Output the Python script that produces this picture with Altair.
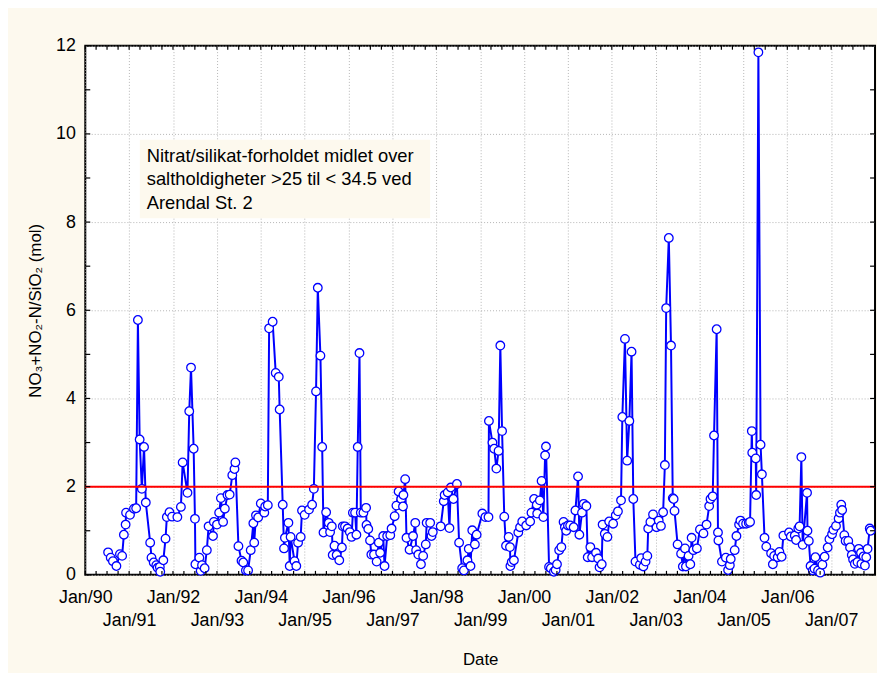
import altair as alt
import pandas as pd

# ---- data (decimal year, ratio) ----
years = [
    1990.52, 1990.58, 1990.63, 1990.71, 1990.79, 1990.84, 1990.88, 1990.92, 1990.93,
    1991.02, 1991.11, 1991.16, 1991.20, 1991.24, 1991.29, 1991.34, 1991.38, 1991.48,
    1991.51, 1991.56, 1991.62, 1991.65, 1991.70, 1991.71, 1991.78, 1991.83, 1991.86,
    1991.92, 1991.98, 1992.10, 1992.18, 1992.22, 1992.33, 1992.37, 1992.41, 1992.47,
    1992.50, 1992.51, 1992.60, 1992.63, 1992.66, 1992.72, 1992.77, 1992.81, 1992.91,
    1992.93, 1993.00, 1993.05, 1993.09, 1993.14, 1993.18, 1993.24, 1993.29, 1993.35,
    1993.40, 1993.42, 1993.49, 1993.56, 1993.60, 1993.66, 1993.71, 1993.77, 1993.83,
    1993.85, 1993.89, 1993.94, 1994.00, 1994.08, 1994.10, 1994.16, 1994.19, 1994.27,
    1994.34, 1994.41, 1994.43, 1994.50, 1994.53, 1994.55, 1994.63, 1994.66, 1994.68,
    1994.77, 1994.81, 1994.85, 1994.91, 1994.94, 1995.00, 1995.10, 1995.17, 1995.21,
    1995.26, 1995.30, 1995.36, 1995.40, 1995.43, 1995.49, 1995.55, 1995.58, 1995.62,
    1995.64, 1995.68, 1995.73, 1995.79, 1995.85, 1995.87, 1995.92, 1995.98, 1996.03,
    1996.07, 1996.10, 1996.15, 1996.18, 1996.21, 1996.25, 1996.28, 1996.34, 1996.40,
    1996.41, 1996.45, 1996.49, 1996.52, 1996.58, 1996.64, 1996.69, 1996.72, 1996.79,
    1996.82, 1996.88, 1996.95, 1996.98, 1997.05, 1997.09, 1997.14, 1997.20, 1997.24,
    1997.25, 1997.29, 1997.32, 1997.39, 1997.47, 1997.52, 1997.54, 1997.59, 1997.65,
    1997.70, 1997.76, 1997.78, 1997.86, 1997.89, 1997.92, 1998.10, 1998.17, 1998.19,
    1998.26, 1998.30, 1998.33, 1998.39, 1998.47, 1998.52, 1998.59, 1998.63, 1998.71,
    1998.74, 1998.78, 1998.82, 1998.88, 1998.92, 1999.05, 1999.12, 1999.19, 1999.20,
    1999.28, 1999.32, 1999.37, 1999.42, 1999.46, 1999.50, 1999.55, 1999.59, 1999.65,
    1999.68, 1999.69, 1999.72, 1999.77, 1999.87, 1999.91, 1999.96, 2000.05, 2000.14,
    2000.17, 2000.23, 2000.29, 2000.30, 2000.36, 2000.40, 2000.44, 2000.48, 2000.50,
    2000.57, 2000.61, 2000.68, 2000.72, 2000.75, 2000.80, 2000.85, 2000.90, 2000.93,
    2000.96, 2001.00, 2001.05, 2001.13, 2001.17, 2001.23, 2001.26, 2001.32, 2001.36,
    2001.42, 2001.45, 2001.51, 2001.55, 2001.64, 2001.69, 2001.72, 2001.77, 2001.79,
    2001.84, 2001.90, 2001.94, 2002.03, 2002.09, 2002.14, 2002.21, 2002.24, 2002.30,
    2002.35, 2002.40, 2002.45, 2002.49, 2002.54, 2002.64, 2002.67, 2002.72, 2002.77,
    2002.81, 2002.83, 2002.88, 2002.94, 2003.02, 2003.07, 2003.12, 2003.17, 2003.21,
    2003.24, 2003.30, 2003.35, 2003.39, 2003.41, 2003.43, 2003.50, 2003.58, 2003.62,
    2003.67, 2003.69, 2003.75, 2003.79, 2003.82, 2003.86, 2003.94, 2004.01, 2004.09,
    2004.16, 2004.22, 2004.25, 2004.30, 2004.33, 2004.39, 2004.42, 2004.43, 2004.51,
    2004.60, 2004.65, 2004.69, 2004.71, 2004.80, 2004.84, 2004.90, 2004.93, 2004.99,
    2005.06, 2005.12, 2005.15, 2005.19, 2005.20, 2005.28, 2005.29, 2005.34, 2005.39,
    2005.42, 2005.48, 2005.52, 2005.63, 2005.67, 2005.70, 2005.78, 2005.82, 2005.87,
    2005.91, 2006.04, 2006.08, 2006.17, 2006.20, 2006.25, 2006.28, 2006.32, 2006.35,
    2006.45, 2006.46, 2006.49, 2006.53, 2006.58, 2006.62, 2006.64, 2006.70, 2006.75,
    2006.80, 2006.85, 2006.92, 2006.96, 2007.02, 2007.05, 2007.11, 2007.17, 2007.20,
    2007.23, 2007.25, 2007.30, 2007.33, 2007.39, 2007.43, 2007.47, 2007.50, 2007.54,
    2007.60, 2007.63, 2007.68, 2007.69, 2007.74, 2007.77, 2007.80, 2007.83, 2007.88,
    2007.90,
]
ratios = [
    0.51, 0.39, 0.31, 0.20, 0.47, 0.43, 0.91, 1.14, 1.41,
    1.36, 1.50, 1.51, 5.78, 3.07, 1.95, 2.90, 1.64, 0.73,
    0.39, 0.28, 0.22, 0.16, 0.18, 0.07, 0.33, 0.82, 1.31,
    1.42, 1.32, 1.31, 1.54, 2.55, 1.86, 3.71, 4.70, 2.86,
    1.27, 0.24, 0.39, 0.09, 0.22, 0.15, 0.56, 1.10, 0.88,
    1.20, 1.14, 1.41, 1.74, 1.20, 1.50, 1.81, 1.82, 2.26,
    2.40, 2.55, 0.65, 0.32, 0.28, 0.10, 0.10, 0.56, 1.17,
    0.73, 1.35, 1.30, 1.62, 1.41, 1.55, 1.58, 5.59, 5.74,
    4.58, 4.49, 3.75, 1.59, 0.60, 0.84, 1.18, 0.20, 0.86,
    0.31, 0.20, 0.73, 0.86, 1.46, 1.36, 1.48, 1.59, 1.95,
    4.16, 6.51, 4.97, 2.90, 0.96, 1.42, 1.18, 0.97, 1.10,
    0.45, 0.66, 0.45, 0.33, 0.62, 1.10, 1.10, 1.05, 0.97,
    0.86, 1.41, 1.41, 0.91, 2.90, 5.03, 1.41, 1.41, 1.52,
    1.13, 1.04, 0.78, 0.46, 0.46, 0.30, 0.73, 0.50, 0.88,
    0.20, 0.88, 0.90, 1.05, 1.33, 1.57, 1.89, 1.72, 1.55,
    1.81, 2.17, 0.84, 0.57, 0.88, 1.18, 0.56, 0.46, 0.24,
    0.43, 0.69, 1.18, 1.18, 0.88, 0.97, 1.10, 1.67, 1.81,
    1.87, 1.06, 1.98, 1.72, 2.06, 0.73, 0.15, 0.10, 0.33,
    0.59, 0.20, 1.01, 0.69, 0.91, 1.39, 1.31, 1.31, 3.49,
    3.00, 2.86, 2.41, 2.81, 5.20, 3.26, 1.32, 0.66, 0.86,
    0.63, 0.20, 0.29, 0.33, 0.96, 1.08, 1.21, 1.12, 1.21,
    1.41, 1.72, 1.59, 1.39, 1.69, 2.13, 1.31, 2.71, 2.91,
    0.18, 0.15, 0.07, 0.11, 0.24, 0.56, 0.63, 1.20, 1.08,
    1.00, 1.12, 1.12, 1.08, 1.46, 2.23, 0.91, 1.41, 1.61,
    1.56, 0.40, 0.63, 0.40, 0.50, 0.37, 0.17, 0.24, 1.14,
    0.93, 0.86, 1.21, 1.16, 1.35, 1.44, 1.69, 3.58, 5.35,
    2.59, 3.49, 5.06, 1.72, 0.30, 0.23, 0.38, 0.19, 0.30,
    0.43, 1.05, 1.20, 1.37, 1.08, 1.23, 1.11, 1.42, 2.49,
    6.05, 7.64, 5.20, 1.74, 1.72, 1.45, 0.69, 0.48, 0.19,
    0.60, 0.19, 0.43, 0.24, 0.84, 0.56, 0.60, 1.03, 0.94,
    1.14, 1.56, 1.72, 1.78, 3.16, 5.57, 0.96, 0.78, 0.30,
    0.39, 0.11, 0.22, 0.36, 0.56, 0.88, 1.14, 1.23, 1.16,
    1.16, 1.18, 1.20, 3.26, 2.77, 2.64, 1.81, 11.85, 2.95,
    2.28, 0.84, 0.64, 0.49, 0.24, 0.43, 0.40, 0.52, 0.41,
    0.89, 0.96, 0.87, 0.89, 0.79, 1.05, 1.10, 2.67, 0.68,
    1.86, 1.00, 0.77, 0.20, 0.10, 0.14, 0.40, 0.10, 0.05,
    0.23, 0.41, 0.62, 0.81, 0.92, 1.02, 1.11, 1.28, 1.41,
    1.59, 1.47, 0.90, 0.77, 0.77, 0.62, 0.45, 0.35, 0.25,
    0.29, 0.59, 0.50, 0.25, 0.42, 0.21, 0.40, 0.59, 1.05,
    1.00,
]
reference_level = [2.0]
label_years = list(range(1990, 2008))
tick_years = list(range(1990, 2008))
tick_months = [1, 4, 7, 10]
y_tick_values = list(range(0, 13))
y_label_values = [0, 2, 4, 6, 8, 10, 12]
note_lines = [
    "Nitrat/silikat-forholdet midlet over",
    "saltholdigheter >25 til < 34.5 ved",
    "Arendal St. 2",
]


def to_timestamp(dec_year):
    yr = int(dec_year)
    start = pd.Timestamp(year=yr, month=1, day=1)
    end = pd.Timestamp(year=yr + 1, month=1, day=1)
    return start + (end - start) * (dec_year - yr)


series = pd.DataFrame({"date": [to_timestamp(v) for v in years], "value": ratios})
level_df = pd.DataFrame({"value": reference_level})
xticks_df = pd.DataFrame(
    {"date": [pd.Timestamp(year=y, month=m, day=1) for y in tick_years for m in tick_months]}
)
yticks_df = pd.DataFrame({"value": y_tick_values})
one_row = pd.DataFrame({"k": [0]})

W, H = 797, 534
FONT = "Liberation Sans, Arial, sans-serif"
BG = "#FDF9EE"

x_enc = alt.X(
    "date:T",
    title="Date",
    scale=alt.Scale(
        domain=[alt.DateTime(year=1990, month=1, date=1), alt.DateTime(year=2008, month=1, date=1)],
        nice=False,
    ),
    axis=alt.Axis(
        values=[alt.DateTime(year=y, month=1, date=1) for y in label_years],
        labelExpr="year(datum.value) % 2 == 0 ? timeFormat(datum.value, '%b/%y') : ['', timeFormat(datum.value, '%b/%y')]",
        labelOverlap=False,
        labelFlush=False,
        labelBound=False,
        labelPadding=14,
        labelLineHeight=23,
        labelFontSize=18,
        ticks=False,
        domain=False,
        grid=True,
        titlePadding=22,
        titleFontSize=17,
    ),
)
y_enc = alt.Y(
    "value:Q",
    title="NO₃+NO₂-N/SiO₂ (mol)",
    scale=alt.Scale(domain=[0, 12], nice=False),
    axis=alt.Axis(
        values=y_label_values,
        labelPadding=10,
        labelFontSize=18,
        ticks=False,
        domain=False,
        grid=True,
        titlePadding=11,
        titleFontSize=17,
    ),
)

box = alt.Chart(one_row).mark_rect(fill=BG).encode(
    x=alt.value(55), x2=alt.value(348), y=alt.value(95), y2=alt.value(174)
)
note = alt.Chart(one_row).mark_text(
    text=note_lines, align="left", baseline="alphabetic", fontSize=18.5,
    lineHeight=24, font=FONT, color="black",
).encode(x=alt.value(62), y=alt.value(117))

line = alt.Chart(series).mark_line(color="#0000FF", strokeWidth=2).encode(x=x_enc, y=y_enc)
points = alt.Chart(series).mark_point(
    shape="circle", filled=True, fill="white", stroke="#0000FF", strokeWidth=1.3,
    size=75, opacity=1,
).encode(x=x_enc, y=y_enc)
level = alt.Chart(level_df).mark_rule(color="#FF0000", strokeWidth=2).encode(y=y_enc)

tick_style = dict(color="black", strokeWidth=1.2)
xt_bottom = alt.Chart(xticks_df).mark_rule(**tick_style).encode(
    x=x_enc, y=alt.value(H), y2=alt.value(H - 4)
)
xt_top = alt.Chart(xticks_df).mark_rule(**tick_style).encode(
    x=x_enc, y=alt.value(0), y2=alt.value(4)
)
yt_left = alt.Chart(yticks_df).mark_rule(**tick_style).encode(
    y=y_enc, x=alt.value(0), x2=alt.value(5)
)
yt_right = alt.Chart(yticks_df).mark_rule(**tick_style).encode(
    y=y_enc, x=alt.value(W), x2=alt.value(W - 5)
)

chart = alt.layer(
    box, note, line, points, level, xt_bottom, xt_top, yt_left, yt_right
).properties(
    width=W,
    height=H,
    autosize=alt.AutoSizeParams(type="none"),
    padding={"left": 78, "top": 35, "right": 2, "bottom": 96},
    background=BG,
).configure_view(
    fill="white", stroke="black", strokeWidth=2
).configure_axis(
    labelFont=FONT, titleFont=FONT, labelColor="black", titleColor="black",
    titleFontWeight="normal", gridColor="#b4b4b4", gridDash=[1, 2], gridWidth=1,
).configure_text(font=FONT)

chart.save("out.html", embed_options={"renderer": "svg", "actions": False})
